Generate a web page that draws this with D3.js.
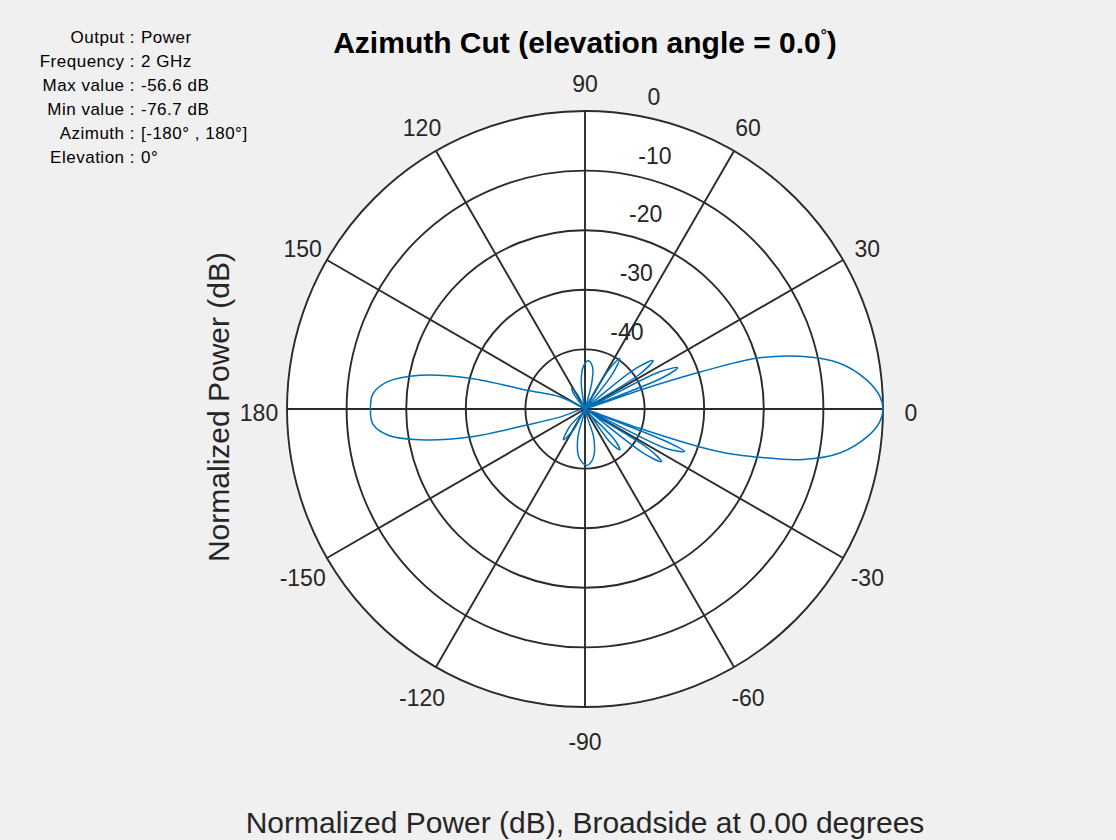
<!DOCTYPE html>
<html>
<head>
  <meta charset="utf-8">
  <script src="https://cdn.jsdelivr.net/npm/d3@7"></script>
  <title>Azimuth Cut</title>
<style>
body {
  margin: 0;
  background: #f0f0f0;
}
svg {
  font-family: "Liberation Sans", Arial, sans-serif;
}
.grid {
  fill: none;
  stroke: #2b2b2b;
  stroke-width: 1.9;
}
.lbl {
  fill: #262626;
}
</style>
</head>
<body>
<script>
// pattern: azimuth (deg) and normalized power (dB)
var azimuth = [
  -180, -176, -172.5, -169.4, -166.3, -164.6, -162, -158,
  -131, -125, -119, -110,
  -104, -97, -88, -80, -73, -67,
  -53, -49.5, -46, -42,
  -37, -34.5, -32, -29,
  -26, -23.1, -21.8, -20.8,
  -19.5, -18.3, -17, -15.6, -13.3, -9.8, -5.2, -2.5, 0,
  2.5, 5.9, 10.2, 13.8, 16.5, 17.8, 19, 20.5,
  22, 24, 26.5, 29.5,
  32.5, 35.5, 38.5, 42,
  48, 52, 55.5, 59, 64,
  70, 76, 80, 86, 92, 98, 106,
  112, 118, 122.7, 127, 134,
  150, 154, 162, 165, 168.4, 172.2, 176
];
var powerDb = [
  -14, -14.3, -16.6, -21.9, -30.2, -39.9, -45.6, -50,
  -46, -43.7, -46, -50,
  -45, -41.8, -40.5, -41.8, -45, -50,
  -43, -41, -43, -50,
  -37.5, -34.4, -37.5, -50,
  -35, -31.8, -35, -50,
  -40.3, -29.7, -24, -20.1, -13, -6.6, -2.1, -0.5, 0,
  -0.5, -2.5, -6.6, -12.9, -20, -29.7, -40.3, -50,
  -36, -33, -36, -50,
  -39, -36, -39, -50,
  -50, -42.5, -39.7, -42.5, -50,
  -50, -45, -42.8, -41.9, -42.8, -45.5, -50,
  -50, -47, -45.9, -47, -50,
  -50, -45.4, -39.8, -30, -21.8, -16.5, -14.3
];

var ringDb = [-40, -30, -20, -10, 0];
var ringLabels = ['-40', '-30', '-20', '-10', '0'];
var angleTicks = [0, 30, 60, 90, 120, 150, 180, -150, -120, -90, -60, -30];

var infoKeys = ['Output', 'Frequency', 'Max value', 'Min value', 'Azimuth', 'Elevation'];
var infoVals = ['Power', '2 GHz', '-56.6 dB', '-76.7 dB', '[-180\u00b0 , 180\u00b0]', '0\u00b0'];

var width = 1116;
var height = 840;
var cx = 585, cy = 409, R = 298;

var svg = d3.select('body').append('svg')
  .attr('width', width)
  .attr('height', height);

var r = d3.scaleLinear().domain([-50, 0]).range([0, R]).clamp(true);
var rad = function (d) { return d * Math.PI / 180; };

var g = svg.append('g').attr('transform', 'translate(' + cx + ',' + cy + ')');

g.append('circle').attr('r', R).style('fill', '#fff');

g.selectAll('.ring')
  .data(ringDb)
  .enter().append('circle')
  .attr('class', 'grid ring')
  .attr('r', function (d) { return r(d); });

g.selectAll('.spoke')
  .data(angleTicks)
  .enter().append('line')
  .attr('class', 'grid spoke')
  .attr('x1', 0).attr('y1', 0)
  .attr('x2', function (d) { return R * Math.cos(rad(d)); })
  .attr('y2', function (d) { return -R * Math.sin(rad(d)); });

// angle labels
var labR = R + 28;
g.selectAll('.alab')
  .data(angleTicks)
  .enter().append('text')
  .attr('class', 'lbl')
  .attr('x', function (d) { return labR * Math.cos(rad(d)); })
  .attr('y', function (d) { return -labR * Math.sin(rad(d)) + 4 - 3 * Math.sin(rad(d)); })
  .attr('text-anchor', 'middle')
  .attr('dy', '0.35em')
  .style('font-size', '23px')
  .text(function (d) { return d; });

// magnitude labels
g.selectAll('.rlab')
  .data(ringDb)
  .enter().append('text')
  .attr('class', 'lbl')
  .attr('x', function (d) { return r(d) * Math.cos(rad(81)) + 16; })
  .attr('y', function (d) { return -r(d) * Math.sin(rad(81)) - 18; })
  .attr('dy', '0.35em')
  .style('font-size', '23px')
  .text(function (d, i) { return ringLabels[i]; });

// pattern
var pts = azimuth.map(function (a, i) { return [a, powerDb[i]]; });
var line = d3.lineRadial()
  .angle(function (d) { return rad(90 - d[0]); })
  .radius(function (d) { return r(d[1]); })
  .curve(d3.curveCatmullRomClosed.alpha(0.5));

g.append('path')
  .datum(pts)
  .attr('d', line)
  .style('fill', 'none')
  .style('stroke', '#0072bd')
  .style('stroke-width', 1.5);

// title
var title = svg.append('text')
  .attr('x', cx)
  .attr('y', 53)
  .attr('text-anchor', 'middle')
  .style('font-size', '30px')
  .style('font-weight', 'bold')
  .style('fill', '#000');
title.append('tspan').text('Azimuth Cut (elevation angle = 0.0');
title.append('tspan').attr('dy', -13).style('font-size', '15px').text('\u00b0');
title.append('tspan').attr('dy', 13).text(')');

// axis texts
svg.append('text')
  .attr('transform', 'translate(229,407) rotate(-90)')
  .attr('text-anchor', 'middle')
  .style('font-size', '30px')
  .style('fill', '#262626')
  .text('Normalized Power (dB)');

svg.append('text')
  .attr('x', cx)
  .attr('y', 833)
  .attr('text-anchor', 'middle')
  .style('font-size', '30px')
  .style('fill', '#262626')
  .text('Normalized Power (dB), Broadside at 0.00 degrees');

// info box
var info = svg.append('g')
  .style('font-size', '17px')
  .style('letter-spacing', '0.5px')
  .style('fill', '#000');
info.selectAll('.k')
  .data(infoKeys)
  .enter().append('text')
  .attr('x', 135)
  .attr('y', function (d, i) { return 43 + i * 24; })
  .attr('text-anchor', 'end')
  .text(function (d) { return d + ' :'; });
info.selectAll('.v')
  .data(infoVals)
  .enter().append('text')
  .attr('x', 141)
  .attr('y', function (d, i) { return 43 + i * 24; })
  .text(function (d) { return d; });
</script>
</body>
</html>
